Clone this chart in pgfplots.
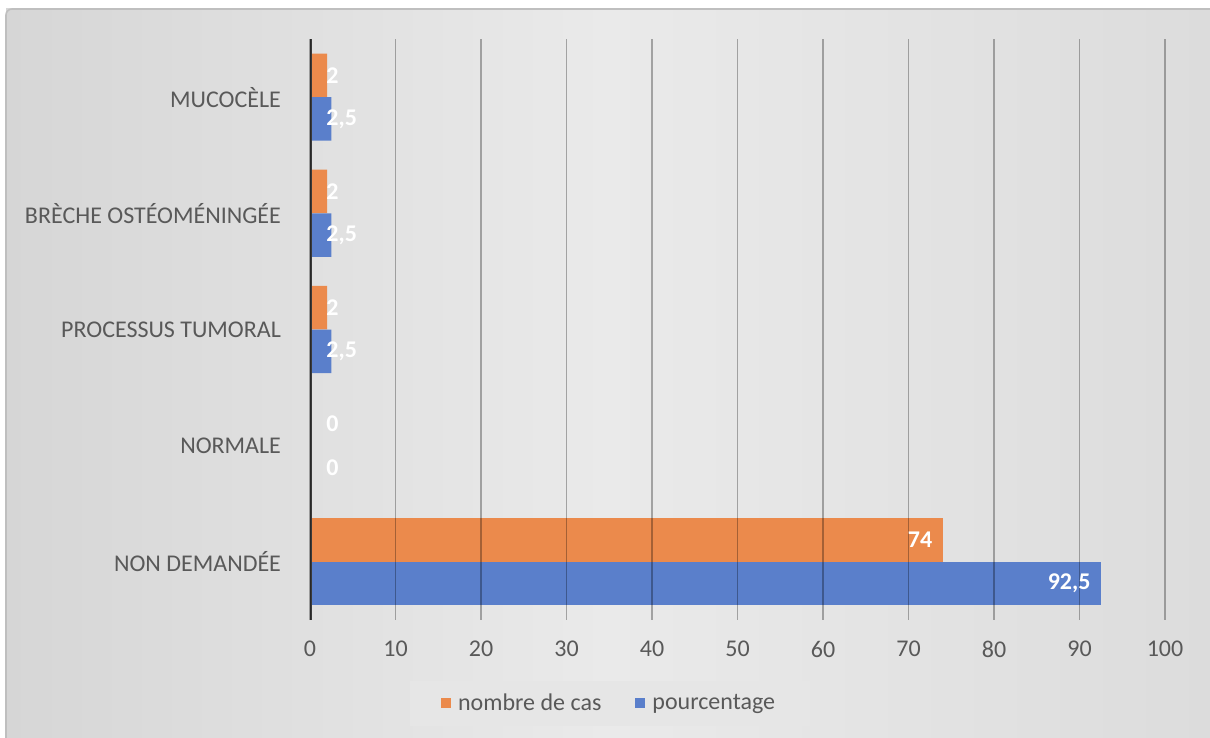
\documentclass[border=0pt]{standalone}
\usepackage{fontspec}
\setmainfont{Carlito}
\usepackage{pgfplots}
\usepackage{pgfplotstable}
\pgfplotsset{compat=1.18}
\definecolor{orangec}{HTML}{EB8A4C}
\definecolor{bluec}{HTML}{5A7FCB}
\definecolor{txt}{HTML}{595959}
\definecolor{bgL}{HTML}{D6D6D6}
\definecolor{bgM}{HTML}{EAEAEA}
\definecolor{bgR}{HTML}{DCDCDC}
\definecolor{legbg}{HTML}{E6E6E6}
\definecolor{axisc}{HTML}{3A3A3A}

% small values: label placed from the bar base; large values: label inside bar end
\pgfplotstableread{
y val lab
0 74 74
}\orangebig
\pgfplotstableread{
y val lab
1 0 0
2 2 2
3 2 2
4 2 2
}\orangesmall
\pgfplotstableread{
y val lab
0 92.5 92,5
}\bluebig
\pgfplotstableread{
y val lab
1 0 0
2 2.5 2,5
3 2.5 2,5
4 2.5 2,5
}\bluesmall

\tikzset{lblfont/.style={inner sep=1pt, font=\bfseries\fontsize{12}{14}\selectfont, text=white}}
\pgfplotsset{
  biglbl/.style={point meta=explicit symbolic, nodes near coords,
    nodes near coords style={lblfont, anchor=east, xshift=-4pt}},
  smalllbl/.style={point meta=explicit symbolic, nodes near coords,
    nodes near coords style={lblfont, anchor=west, xshift=7pt}},
}

\begin{document}
\begin{tikzpicture}
\fill[white] (0,0) rectangle (605pt,369pt);
\shade[left color=bgL, right color=bgR, middle color=bgM] (3pt,0) rectangle (605pt,364.5pt);
\draw[black!25, line width=0.8pt, rounded corners=3pt] (3pt,0) -- (3pt,364.5pt) -- (606pt,364.5pt);
\begin{axis}[
  at={(155pt,59pt)}, anchor=south west,
  scale only axis, width=427.5pt, height=290.5pt,
  xmin=0, xmax=100, ymin=-0.5, ymax=4.5,
  xtick={0,10,...,100}, ytick={0,1,2,3,4},
  yticklabels={NON DEMANDÉE, NORMALE, PROCESSUS TUMORAL, BRÈCHE OSTÉOMÉNINGÉE, MUCOCÈLE},
  xmajorgrids,
  major grid style={draw=black, opacity=0.3, line width=0.8pt},
  axis line style={draw=none},
  major tick length=0pt,
  axis on top,
  /pgf/number format/assume math mode=true,
  ticklabel style={font=\fontsize{12}{14}\selectfont, text=txt},
  yticklabel style={xshift=-11pt},
  xticklabel style={yshift=-7pt},
  xbar, bar width=21.75pt,
  legend style={at={(0.351,-0.1437)}, anchor=center, draw=none, fill=legbg,
    legend columns=2, font=\fontsize{12}{14}\selectfont, text=txt,
    inner xsep=15.5pt, inner ysep=4.5pt,
    /tikz/every even column/.append style={column sep=15pt}},
  legend image code/.code={\fill[#1] (0pt,-2.3pt) rectangle (5pt,2.7pt); \path (6.5pt,0pt);},
]
\addplot[fill=orangec, draw=none, bar shift=10.9pt, biglbl] table[x=val, y=y, meta=lab] {\orangebig};
\addlegendentry{nombre de cas}
\addplot[fill=bluec, draw=none, bar shift=-10.9pt, biglbl] table[x=val, y=y, meta=lab] {\bluebig};
\addlegendentry{pourcentage}
\addplot[fill=orangec, draw=none, bar shift=10.9pt, forget plot] table[x=val, y=y] {\orangesmall};
\addplot[fill=bluec, draw=none, bar shift=-10.9pt, forget plot] table[x=val, y=y] {\bluesmall};
\addplot[draw=none, fill=none, bar shift=10.9pt, forget plot, smalllbl] table[x expr=0, y=y, meta=lab] {\orangesmall};
\addplot[draw=none, fill=none, bar shift=-10.9pt, forget plot, smalllbl] table[x expr=0, y=y, meta=lab] {\bluesmall};
\draw[axisc, line width=1.5pt] (axis cs:0,-0.5) -- (axis cs:0,4.5);
\end{axis}
\pgfresetboundingbox
\useasboundingbox (0,0) rectangle (605pt,369pt);
\end{tikzpicture}
\end{document}
